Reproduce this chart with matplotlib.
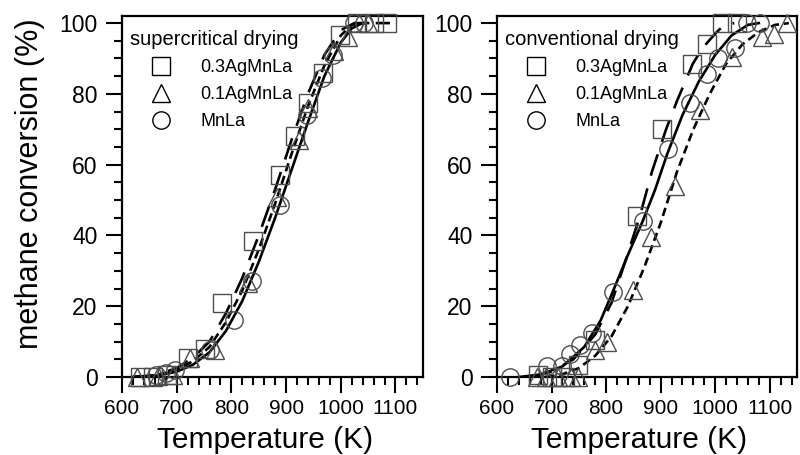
import matplotlib
matplotlib.use("Agg")
import matplotlib.pyplot as plt
from matplotlib.lines import Line2D
from matplotlib.ticker import MultipleLocator

plt.rcParams['font.family'] = ['Liberation Sans', 'DejaVu Sans']

labels = ["0.3AgMnLa", "0.1AgMnLa", "MnLa"]
panel_titles = ["supercritical drying", "conventional drying"]

# supercritical drying - measured points
sc_sq_T = [633, 657, 682, 721, 752, 783, 840, 889, 917, 941, 968, 999, 1030, 1060, 1085]
sc_sq_v = [0, 0, 0.5, 5.3, 8, 21, 38.5, 57, 68, 77.5, 86, 96.5, 100, 100, 100]
sc_tri_T = [627, 665, 693, 725, 770, 831, 883, 923, 941, 987, 1014, 1050]
sc_tri_v = [0, 0.3, 0.5, 5.5, 7.5, 26.5, 51, 67, 76, 92, 96, 100]
sc_circ_T = [662, 681, 697, 761, 804, 837, 889, 938, 966, 985, 1024, 1042]
sc_circ_v = [0.5, 1, 2, 7.5, 16, 27, 48.5, 74, 84.5, 91, 100, 100]

# supercritical drying - fitted curves
sc_fit1_T = [620, 660, 700, 730, 760, 790, 820, 850, 880, 910, 940, 970, 1000, 1025, 1090]
sc_fit1_v = [0, 0.5, 2.5, 5.5, 10, 18, 28, 40, 53, 67, 80, 91, 98, 100, 100]
sc_fit2_T = [620, 660, 700, 730, 760, 790, 820, 850, 880, 910, 940, 970, 1000, 1020, 1045]
sc_fit2_v = [0, 0.4, 2, 4.5, 8.5, 15.5, 24.5, 36, 49, 63, 76.5, 88, 96.5, 99.5, 100]
sc_fit3_T = [620, 660, 700, 730, 760, 790, 820, 850, 880, 910, 940, 970, 1000, 1020, 1040, 1050]
sc_fit3_v = [0, 0.3, 1.5, 3.5, 7, 13, 21.5, 32.5, 45, 58.5, 72, 85, 94.5, 98.5, 100, 100]

# conventional drying - measured points
cv_sq_T = [675, 700, 725, 748, 779, 856, 902, 957, 985, 1012, 1040]
cv_sq_v = [0.5, 0, 0, 3.4, 10.4, 45.5, 70, 88.5, 94, 100, 100]
cv_tri_T = [673, 690, 712, 735, 748, 779, 801, 849, 883, 926, 972, 1030, 1086, 1108, 1132]
cv_tri_v = [0, 0, 0, 0, 0, 7.5, 10, 24.5, 39.5, 54, 75.5, 90.5, 96, 97, 100]
cv_circ_T = [624, 692, 719, 734, 752, 774, 812, 867, 913, 953, 985, 1005, 1036, 1058, 1082]
cv_circ_v = [0, 3, 3, 6.5, 9, 12.5, 24, 44, 64.5, 77.5, 85.5, 90, 93, 100, 100]

# conventional drying - fitted curves
cv_fit1_T = [660, 700, 740, 780, 810, 838, 862, 884, 910, 930, 959, 977, 1000, 1015, 1035]
cv_fit1_v = [0, 1.5, 5, 12, 21, 34, 45.5, 58, 70, 78, 88.5, 93, 97, 99.3, 100]
cv_fit2_T = [690, 720, 750, 780, 810, 840, 870, 900, 930, 960, 990, 1020, 1050, 1080, 1110, 1135]
cv_fit2_v = [0, 0.8, 2.5, 6, 11.5, 20, 31, 43.5, 58, 70, 80, 88.5, 94, 97.5, 99.5, 100]
cv_fit3_T = [640, 680, 720, 760, 790, 812, 840, 867, 890, 912, 940, 970, 1000, 1030, 1060, 1080]
cv_fit3_v = [0, 0.7, 3, 8.5, 16, 24, 34.5, 44, 53, 63, 74, 83.5, 91, 96.5, 99.5, 100]

panels = [
    dict(pts=[(sc_sq_T, sc_sq_v), (sc_tri_T, sc_tri_v), (sc_circ_T, sc_circ_v)],
         fits=[(sc_fit1_T, sc_fit1_v), (sc_fit2_T, sc_fit2_v), (sc_fit3_T, sc_fit3_v)]),
    dict(pts=[(cv_sq_T, cv_sq_v), (cv_tri_T, cv_tri_v), (cv_circ_T, cv_circ_v)],
         fits=[(cv_fit1_T, cv_fit1_v), (cv_fit2_T, cv_fit2_v), (cv_fit3_T, cv_fit3_v)]),
]

markers = ["s", "^", "o"]
msizes = [12.5, 12.5, 12.5]
dashes = [(8.5, 5), (3.2, 1.8), None]

fig = plt.figure(figsize=(8, 4.55), dpi=100)
ax_pos = [[0.1525, 0.1714, 0.376, 0.7934], [0.62125, 0.1714, 0.375, 0.7934]]

for i, p in enumerate(panels):
    ax = fig.add_axes(ax_pos[i])
    for (T, v), d in zip(p["fits"], dashes):
        line, = ax.plot(T, v, color="black", lw=1.9, zorder=3)
        if d is not None:
            line.set_dashes(d)
    for (T, v), m, ms in zip(p["pts"], markers, msizes):
        ax.plot(T, v, linestyle="none", marker=m, ms=ms, mfc="none",
                mec="0.3", mew=1.0, clip_on=False, zorder=4)

    ax.set_xlim(600, 1150)
    ax.set_ylim(0, 102)
    ax.xaxis.set_major_locator(MultipleLocator(100))
    ax.xaxis.set_minor_locator(MultipleLocator(20))
    ax.yaxis.set_major_locator(MultipleLocator(20))
    ax.yaxis.set_minor_locator(MultipleLocator(5))
    ax.tick_params(which="both", direction="out", top=False, right=False,
                   width=1.5, pad=4)
    ax.tick_params(axis="x", labelsize=15)
    ax.tick_params(axis="y", labelsize=16.5, pad=6)
    ax.tick_params(which="major", length=11.5)
    ax.tick_params(which="minor", length=5.5)
    for s in ax.spines.values():
        s.set_linewidth(1.6)

    ax.set_xlabel("Temperature (K)", fontsize=21.5)
    ax.xaxis.set_label_coords(0.475, -0.135)
    ax.xaxis.label.set_va("top")
    if i == 0:
        ax.set_ylabel("methane conversion (%)", fontsize=22)
        ax.yaxis.set_label_coords(-0.255, 0.535)

    handles = [Line2D([], [], linestyle="none", marker=m, ms=ms, mfc="none",
                      mec="black", mew=1.0) for m, ms in zip(markers, msizes)]
    leg = ax.legend(handles, labels, title=panel_titles[i], loc="upper left",
                    bbox_to_anchor=(0.015, 0.97), borderaxespad=0, borderpad=0.2,
                    frameon=False, fontsize=13, title_fontsize=14.5,
                    handlelength=3.4, handletextpad=0.5, labelspacing=0.55,
                    alignment="left")

fig.savefig("out.png", dpi=100)
